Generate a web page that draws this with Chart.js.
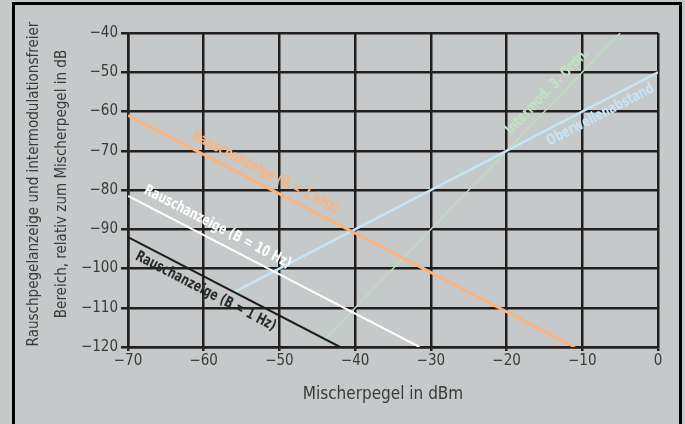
<!DOCTYPE html>
<html>
<head>
<meta charset="utf-8">
<script src="https://cdn.jsdelivr.net/npm/chart.js@4"></script>
<style>
  html, body { margin: 0; padding: 0; background: #c6c9ca; }
  #wrap { position: relative; width: 685px; height: 424px; overflow: hidden; }
  #frame { position: absolute; left: 12px; top: 2px; width: 670px; height: 440px;
           border: 3px solid #000; box-sizing: border-box; }
  canvas { position: absolute; left: 0; top: 0; }
</style>
</head>
<body>
<div id="wrap">
  <div id="frame"></div>
  <canvas id="chart" width="685" height="424"></canvas>
</div>
<script>
// tick values
const xTicks = [-70, -60, -50, -40, -30, -20, -10, 0];
const yTicks = [-40, -50, -60, -70, -80, -90, -100, -110, -120];

// series (start and end point of each straight line)
const noise1kX = [-70, -11];
const noise1kY = [-61, -120];
const noise10X = [-70, -31.5];
const noise10Y = [-81.5, -120];
const noise1X = [-70, -42];
const noise1Y = [-92, -120];
const harmX = [-56, 0];
const harmY = [-106, -50];
const imX = [-44, -5];
const imY = [-118, -40];

const FONT = "'DejaVu Sans Condensed', 'Liberation Sans Narrow', sans-serif";

function pts(xs, ys) {
    return xs.map((x, i) => ({ x: x, y: ys[i] }));
}

const series = [
    { label: 'Rauschanzeige (B = 1 kHz)', xs: noise1kX, ys: noise1kY, color: '#fbb47c', width: 3,
      text: { at: -52.6, off: -12.5, color: '#fbb47c' } },
    { label: 'Rauschanzeige (B = 10 Hz)', xs: noise10X, ys: noise10Y, color: '#ffffff', width: 2,
      text: { at: -59, off: -13.5, color: '#ffffff' } },
    { label: 'Rauschanzeige (B = 1 Hz)', xs: noise1X, ys: noise1Y, color: '#1d1d1b', width: 2,
      text: { at: -59, off: 12.5, color: '#2a2a2a' } },
    { label: 'Oberwellenabstand', xs: harmX, ys: harmY, color: '#c5e5f5', width: 2.5,
      text: { at: -8.3, off: 11.5, color: '#c5e5f5' } },
    { label: 'Intermod. 3. Ordn.', xs: imX, ys: imY, color: '#b9e2bc', width: 1.4,
      text: { at: -13.5, off: -11.5, color: '#bde4c0' } },
];

// labels written along the lines
const lineLabels = {
    id: 'lineLabels',
    afterDatasetsDraw(chart) {
        const ctx = chart.ctx;
        const sx = chart.scales.x, sy = chart.scales.y;
        series.forEach(s => {
            const x0 = sx.getPixelForValue(s.xs[0]), y0 = sy.getPixelForValue(s.ys[0]);
            const x1 = sx.getPixelForValue(s.xs[1]), y1 = sy.getPixelForValue(s.ys[1]);
            const ang = Math.atan2(y1 - y0, x1 - x0);
            const t = (s.text.at - s.xs[0]) / (s.xs[1] - s.xs[0]);
            const vy = s.ys[0] + t * (s.ys[1] - s.ys[0]);
            ctx.save();
            ctx.translate(sx.getPixelForValue(s.text.at), sy.getPixelForValue(vy));
            ctx.rotate(ang);
            ctx.scale(0.8, 1); // condensed look
            ctx.font = 'bold 15px ' + FONT;
            ctx.fillStyle = s.text.color;
            ctx.textAlign = 'center';
            ctx.textBaseline = 'middle';
            ctx.fillText(s.label, 0, s.text.off);
            ctx.restore();
        });
    }
};

// axis titles
const axisTitles = {
    id: 'axisTitles',
    afterDraw(chart) {
        const ctx = chart.ctx;
        ctx.save();
        ctx.fillStyle = '#3a3a3a';
        ctx.textAlign = 'center';
        ctx.textBaseline = 'middle';
        ctx.font = '17px ' + FONT;
        ctx.fillText('Mischerpegel in dBm', 383, 395);
        ctx.font = '16px ' + FONT;
        ctx.translate(0, 184);
        ctx.rotate(-Math.PI / 2);
        ctx.scale(0.94, 1);
        ctx.fillText('Rauschpegelanzeige und intermodulationsfreier', 0, 34);
        ctx.fillText('Bereich, relativ zum Mischerpegel in dB', 0, 62);
        ctx.restore();
    }
};

const minus = v => String(v).replace('-', '\u2212');

new Chart(document.getElementById('chart'), {
    type: 'scatter',
    data: {
        datasets: series.map(s => ({
            label: s.label,
            data: pts(s.xs, s.ys),
            showLine: true,
            borderColor: s.color,
            borderWidth: s.width,
            pointRadius: 0,
            fill: false,
        }))
    },
    options: {
        responsive: false,
        animation: false,
        layout: { padding: { left: 0, right: 27, top: 33, bottom: 0 } },
        plugins: { legend: { display: false }, tooltip: { enabled: false } },
        scales: {
            x: {
                type: 'linear', min: -70, max: 0,
                afterBuildTicks: axis => { axis.ticks = xTicks.map(v => ({ value: v })); },
                afterFit: axis => { axis.height = 77; },
                ticks: { color: '#3a3a3a', font: { family: FONT, size: 15 }, padding: 1,
                         maxRotation: 0, callback: minus },
                grid: { color: '#231f20', lineWidth: 2.5, tickLength: 4 },
                border: { color: '#231f20', width: 2.5 },
            },
            y: {
                type: 'linear', min: -120, max: -40,
                afterBuildTicks: axis => { axis.ticks = yTicks.map(v => ({ value: v })); },
                afterFit: axis => { axis.width = 128; },
                ticks: { color: '#3a3a3a', font: { family: FONT, size: 15 }, padding: 3,
                         callback: minus },
                grid: { color: '#231f20', lineWidth: 2.5, tickLength: 7 },
                border: { color: '#231f20', width: 2.5 },
            }
        }
    },
    plugins: [lineLabels, axisTitles]
});
</script>
</body>
</html>
